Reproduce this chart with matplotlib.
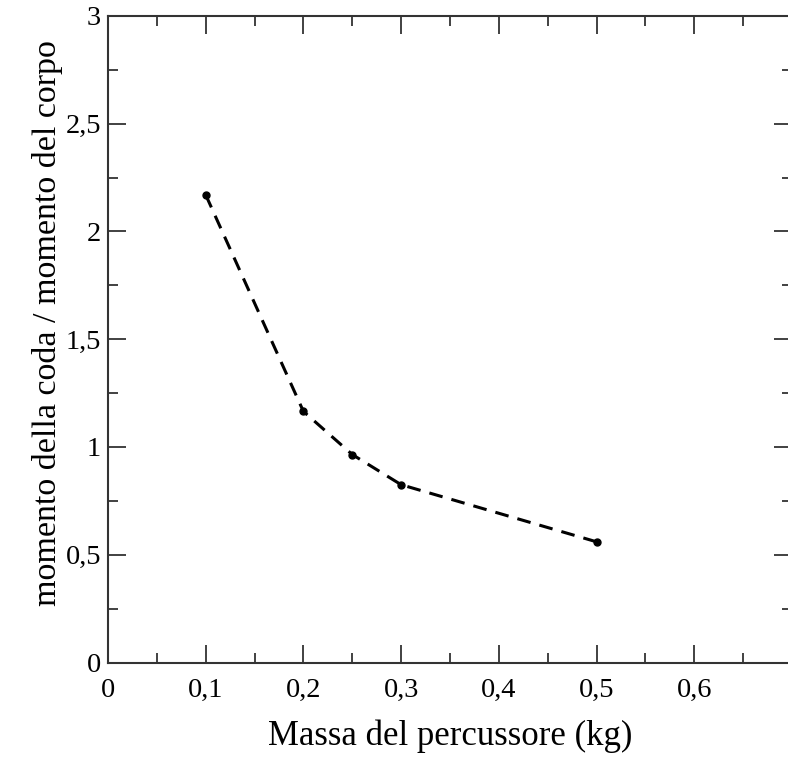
import matplotlib
matplotlib.use("Agg")
import matplotlib.pyplot as plt
from matplotlib.ticker import MultipleLocator, FuncFormatter

massa = [0.1, 0.2, 0.25, 0.3, 0.5]
rapporto = [2.17, 1.165, 0.965, 0.825, 0.56]

plt.rcParams['font.family'] = ['Liberation Serif', 'DejaVu Serif']

fig = plt.figure(figsize=(7.88, 7.64), dpi=100)
# right spine sits just past the image edge, as in the reference
ax = fig.add_axes([108 / 788, (764 - 662.5) / 764, (792 - 108) / 788, (662.5 - 16) / 764])

ax.plot(massa, rapporto, color='black', linestyle=(0, (4.5, 3)), linewidth=2.2,
        marker='o', markersize=5)

ax.set_xlim(0, 0.7)
ax.set_ylim(0, 3)

ax.xaxis.set_major_locator(MultipleLocator(0.1))
ax.xaxis.set_minor_locator(MultipleLocator(0.05))
ax.yaxis.set_major_locator(MultipleLocator(0.5))
ax.yaxis.set_minor_locator(MultipleLocator(0.25))

def virgola(v, pos):
    s = f"{v:.2f}".rstrip('0').rstrip('.')
    return s.replace('.', ',')

def virgola_x(v, pos):
    # 0,7 falls outside the visible picture
    if v > 0.65:
        return ""
    return virgola(v, pos)

ax.xaxis.set_major_formatter(FuncFormatter(virgola_x))
ax.yaxis.set_major_formatter(FuncFormatter(virgola))

ax.tick_params(which='both', direction='in', top=True, right=True,
               color='#333333', width=1.3)
ax.tick_params(which='major', length=13, labelsize=20.5, pad=5)
ax.tick_params(axis='x', which='major', pad=11)
ax.tick_params(which='minor', length=7)
for sp in ax.spines.values():
    sp.set_linewidth(1.5)
    sp.set_color('#333333')

ax.set_xlabel("Massa del percussore (kg)", fontsize=25, labelpad=12)
ax.set_ylabel("momento della coda / momento del corpo", fontsize=24.5, labelpad=2)
ax.yaxis.label.set_y(0.525)

fig.savefig("out.png", dpi=100)
